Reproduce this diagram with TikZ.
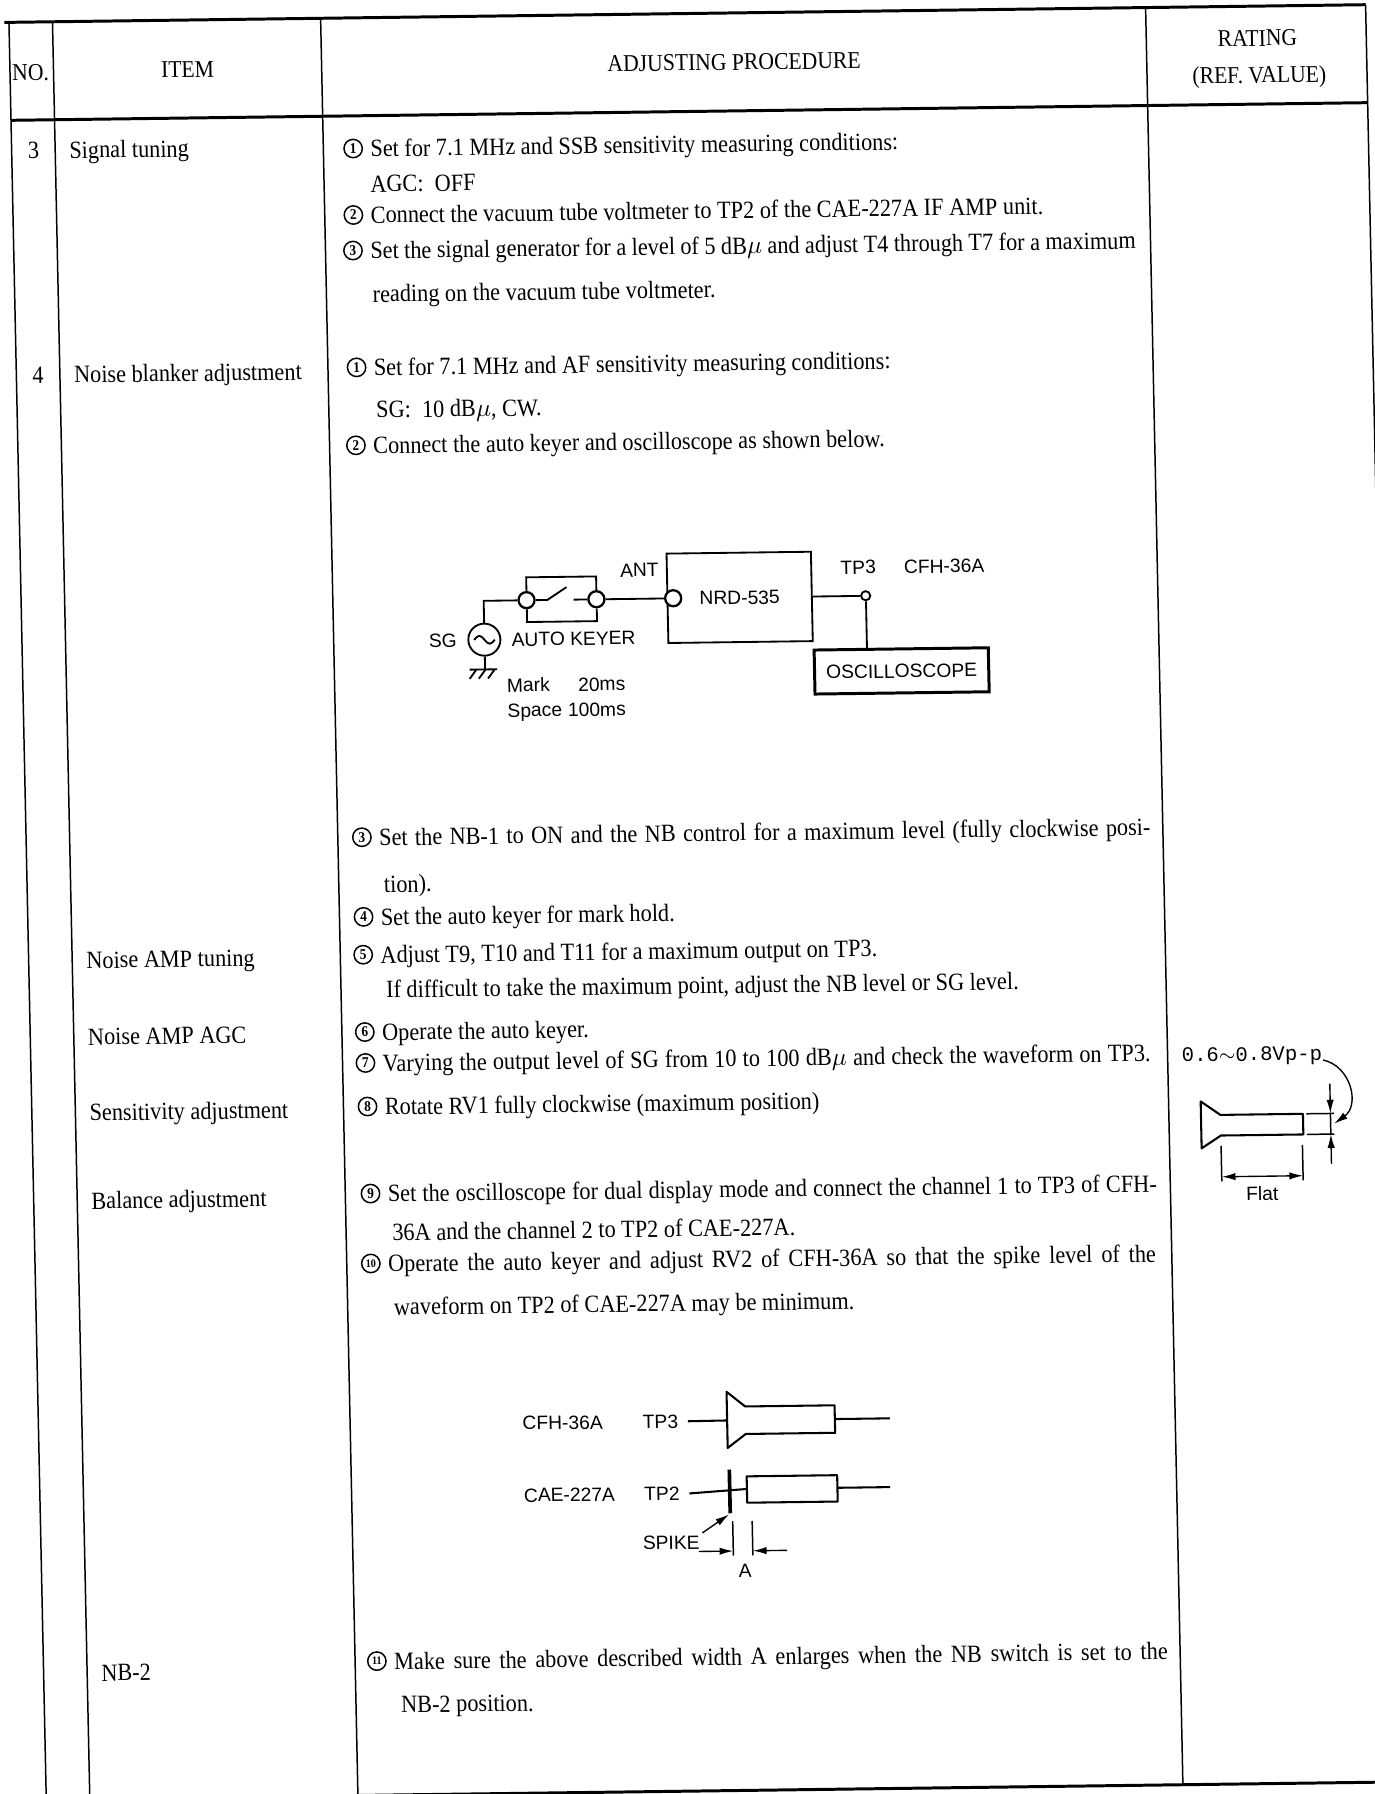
\documentclass[tikz,border=0pt]{standalone}
\usepackage{fontspec}
\setmainfont{Liberation Serif}[FakeStretch=0.9]
\newfontfamily\diagfont{Liberation Sans}
\newfontfamily\valfont{Liberation Mono}
\usetikzlibrary{arrows.meta, positioning}

\tikzset{
  rule/.style={line width=0.65pt},
  thickrule/.style={line width=1.3pt},
  head/.style={font=\fontsize{10.5}{12}\selectfont, inner sep=0pt},
  txt/.style={anchor=west, inner sep=0pt, text height=7.3pt, text depth=0pt, font=\fontsize{10.8}{12}\selectfont},
  cnum/.style={circle, draw, line width=0.65pt, inner sep=0pt, minimum size=8pt, font=\bfseries\fontsize{6.5}{6.5}\selectfont},
  cnumtwo/.style={cnum, font=\bfseries\fontsize{5}{5}\selectfont},
  lbl/.style={font=\diagfont\fontsize{8.4}{10}\selectfont, inner sep=1pt, text height=6pt, text depth=0pt},
  wire/.style={line width=0.8pt},
  conn/.style={circle, draw, fill=white, line width=1pt, inner sep=0pt, minimum size=7pt,
    path picture={\fill (path picture bounding box.center) circle (1.7pt);}},
  wave/.style={line width=0.9pt, line join=round},
  dimarrow/.style={-{Latex[length=6pt,width=3.2pt]}, line width=0.6pt},
  dimboth/.style={{Latex[length=6pt,width=3.2pt]}-{Latex[length=6pt,width=3.2pt]}, line width=0.6pt},
}

\begin{document}
\begin{tikzpicture}[x=0.5pt, y=-0.5pt]
    \fill[white] (0,0) rectangle (1200,1565.7);
    \useasboundingbox (0,0) rectangle (1200,1565.7);
    \begin{scope}[shift={(600,783)}, cm={1,0.013,-0.021,1,(0,0)}, shift={(-600,-783)}, transform shape]

    \draw[thickrule] (20,12) -- (1208,12);
    \draw[thickrule] (24,97.5) -- (1208,97.5);
    \draw[thickrule] (24,1563) -- (1208,1563);
    \foreach \cx in {24,62,296,1016,1208}
        \draw[rule] (\cx,12) -- (\cx,1563);

    \node[head] (hno) at (42,56) {NO.};
    \node[head] (hitem) at (179,55) {ITEM};
    \node[head] (hproc) at (656,55) {ADJUSTING PROCEDURE};
    \node[head] (hrat) at (1113,40) {RATING};
    \node[head] (hval) at (1114,74) {(REF. VALUE)};

    \node[txt, anchor=center] (n3) at (43,124) {3};
    \node[txt, anchor=center] (n4) at (43,320) {4};
    \node[txt] (i3) at (74,124) {Signal tuning};
    \node[txt] (i4) at (74,320) {Noise blanker adjustment};
    \node[txt] (inat) at (74,831) {Noise AMP tuning};
    \node[txt] (inagc) at (74,898) {Noise AMP AGC};
    \node[txt] (isens) at (74,964) {Sensitivity adjustment};
    \node[txt] (ibal) at (74,1041) {Balance adjustment};
    \node[txt] (inb) at (74,1453) {NB-2};

    \node[cnum] (c31) at (322,126) {1};
    \node[txt, right=3pt of c31] (t31) {Set for 7.1 MHz and SSB sensitivity measuring conditions:};
    \node[txt] (t31b) at (336,157) {AGC:\ \ OFF};
    \node[cnum] (c32) at (321,184) {2};
    \node[txt, right=3pt of c32] (t32) {Connect the vacuum tube voltmeter to TP2 of the CAE-227A IF AMP unit.};
    \node[cnum] (c33) at (320,215) {3};
    \node[txt, right=3pt of c33] (t33) {\makebox[334pt][s]{Set the signal generator for a level of 5 dB$\mu$ and adjust T4 through T7 for a maximum}};
    \node[txt] (t33b) at (336,253) {reading on the vacuum tube voltmeter.};

    \node[cnum] (c41) at (321,317) {1};
    \node[txt, right=3pt of c41] (t41) {Set for 7.1 MHz and AF sensitivity measuring conditions:};
    \node[txt] (t41b) at (337,354) {SG:\ \ 10 dB$\mu$, CW.};
    \node[cnum] (c42) at (319,385) {2};
    \node[txt, right=3pt of c42] (t42) {Connect the auto keyer and oscilloscope as shown below.};
    \node[cnum] (c43) at (317,727) {3};
    \node[txt, right=3pt of c43] (t43) {\makebox[336.5pt][s]{Set the NB-1 to ON and the NB control for a maximum level (fully clockwise posi-}};
    \node[txt] (t43b) at (335,768) {tion).};
    \node[cnum] (c44) at (317,796.5) {4};
    \node[txt, right=3pt of c44] (t44) {Set the auto keyer for mark hold.};
    \node[cnum] (c45) at (316,829.5) {5};
    \node[txt, right=3pt of c45] (t45) {Adjust T9, T10 and T11 for a maximum output on TP3.};
    \node[txt] (t45b) at (335,860) {If difficult to take the maximum point, adjust the NB level or SG level.};
    \node[cnum] (c46) at (316,897) {6};
    \node[txt, right=3pt of c46] (t46) {Operate the auto keyer.};
    \node[cnum] (c47) at (316,924) {7};
    \node[txt, right=3pt of c47] (t47) {\makebox[335pt][s]{Varying the output level of SG from 10 to 100 dB$\mu$ and check the waveform on TP3.}};
    \node[cnum] (c48) at (317,962) {8};
    \node[txt, right=3pt of c48] (t48) {Rotate RV1 fully clockwise (maximum position)};
    \node[cnum] (c49) at (318,1038) {9};
    \node[txt, right=3pt of c49] (t49) {\makebox[335.5pt][s]{Set the oscilloscope for dual display mode and connect the channel 1 to TP3 of CFH-}};
    \node[txt] (t49b) at (336,1072) {36A and the channel 2 to TP2 of CAE-227A.};
    \node[cnumtwo] (c410) at (317,1099) {10};
    \node[txt, right=3pt of c410] (t410) {\makebox[335pt][s]{Operate the auto keyer and adjust RV2 of CFH-36A so that the spike level of the}};
    \node[txt] (t410b) at (336,1137) {waveform on TP2 of CAE-227A may be minimum.};
    \node[cnumtwo] (c411) at (315,1446) {11};
    \node[txt, right=3pt of c411] (t411) {\makebox[337.5pt][s]{Make sure the above described width A enlarges when the NB switch is set to the}};
    \node[txt] (t411b) at (335,1484) {NB-2 position.};

    \node[conn] (kl) at (465,522) {};
    \node[conn] (kr) at (526,522) {};
    \coordinate (ktop) at (495,502);
    \coordinate (kbot) at (495,541);
    \draw[wire] (kl.north) -- (kl |- ktop) -- (kr |- ktop) -- (kr.north);
    \draw[wire] (kl.south) -- (kl |- kbot) -- (kr |- kbot) -- (kr.south);
    \coordinate (swa) at (483,522);
    \coordinate (swb) at (500,511);
    \coordinate (swc) at (506,522);
    \draw[wire] (kl.east) -- (swa) -- (swb);
    \draw[wire] (swc) -- (kr.west);
    \node[lbl, anchor=west] (keyer) at (449,556) {AUTO KEYER};

    \node[circle, draw, wire, minimum size=14pt, inner sep=0pt] (sg) at (427.5,556) {};
    \draw[wire, shift={(sg.center)}] (-9,0) sin (-4.5,-3.5) cos (0,0) sin (4.5,3.5) cos (9,0);
    \node[lbl, left=3.5pt of sg] (sgl) {SG};
    \draw[wire] (kl.west) -| (sg.north);
    \coordinate (gnd) at (427.5,582);
    \draw[wire] (sg.south) -- (gnd);
    \draw[wire] (414,582) -- (438,582);
    \foreach \g in {420,428,436}
        \draw[wire] (\g,582) -- ++(-6,8);
    \node[lbl, anchor=west] (mark) at (444,596) {Mark};
    \node[lbl, anchor=east] (markt) at (552,596) {20ms};
    \node[lbl, anchor=west] (space) at (444,618) {Space};
    \node[lbl, anchor=east] (spacet) at (552,618) {100ms};

    \node[lbl, draw, wire, minimum width=63pt, minimum height=39pt] (nrd) at (651,522) {NRD-535};
    \node[conn] (ant) at (593,522) {};
    \node[lbl] (antl) at (564,497) {ANT};
    \draw[wire] (kr.east) -- (ant.west);
    \node[circle, draw, wire, fill=white, minimum size=4pt, inner sep=0pt] (tpt) at (761,522) {};
    \draw[wire] (nrd.east) -- (tpt.west);
    \node[lbl] (tptl) at (755,497) {TP3};
    \node[lbl] (cfhl) at (830,497) {CFH-36A};
    \node[lbl, draw, line width=1.3pt, minimum width=76pt, minimum height=19.2pt] (osc) at (791,588) {OSCILLOSCOPE};
    \draw[wire] (tpt.south) -- (tpt |- osc.north);

    \node[anchor=west, inner sep=0pt, font=\valfont\fontsize{9}{10}\selectfont] (rval) at (1028,928) {0.6$\sim$0.8Vp-p};
    \draw[wave] (1044,967) -- (1061,979) -- (1133,979) -- (1133,997) -- (1061,997) -- (1044,1008) -- cycle;
    \draw[rule] (1136,979) -- (1160,979);
    \draw[rule] (1136,997) -- (1160,997);
    \draw[dimarrow] (1157,953) -- (1157,979);
    \draw[dimarrow] (1157,1023) -- (1157,997);
    \draw[rule] (1157,979) -- (1157,997);
    \draw[dimarrow] ([yshift=-2pt]rval.east) .. controls (1176,938) and (1183,972) .. (1160,988);
    \draw[rule] (1061,1006) -- (1061,1037);
    \draw[rule] (1132,1006) -- (1132,1037);
    \draw[dimboth] (1061,1033) -- (1132,1033);
    \node[lbl] (flat) at (1096,1048) {Flat};

    \node[lbl, anchor=west] (cfh) at (444,1240) {CFH-36A};
    \node[lbl, anchor=west] (tpthree) at (549,1240) {TP3};
    \draw[wave] ([xshift=3pt]tpthree.east) -- (625,1240);
    \draw[wave] (625,1240) -- (625,1215) -- (641,1228) -- (719,1228) -- (719,1252) -- (641,1252) -- (625,1264) -- cycle;
    \draw[wave] (719,1240) -- (767,1240);
    \node[lbl, anchor=west] (cae) at (444,1303) {CAE-227A};
    \node[lbl, anchor=west] (tptwo) at (549,1303) {TP2};
    \draw[wave] ([xshift=3pt]tptwo.east) -- (641,1300);
    \draw[line width=1.6pt] (626,1283) -- (626,1321);
    \draw[wave] (641,1289) rectangle (720,1312);
    \draw[wave] (720,1300) -- (766,1300);
    \node[lbl] (spk) at (574,1346) {SPIKE};
    \draw[dimarrow] (spk.north east) -- (625,1322);
    \draw[rule] (628,1328) -- (628,1358);
    \draw[rule] (645,1328) -- (645,1358);
    \draw[dimarrow] (598,1354) -- (628,1354);
    \draw[dimarrow] (675,1354) -- (645,1354);
    \node[lbl] (dima) at (638,1371) {A};

    \end{scope}
\end{tikzpicture}
\end{document}
